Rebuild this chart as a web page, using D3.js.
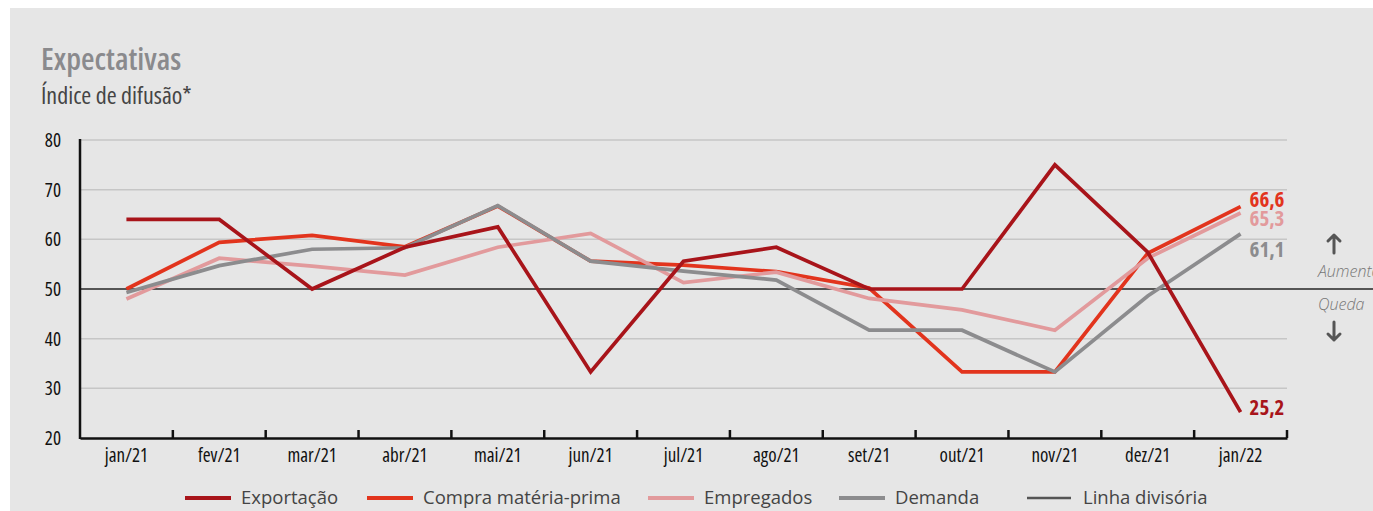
<!DOCTYPE html>
<html>
<head>
<meta charset="utf-8">
<script src="https://cdn.jsdelivr.net/npm/d3@7"></script>
<style>
  body { margin: 0; background: #fff; }
  svg { display: block; }
  text { font-family: "Open Sans", sans-serif; font-stretch: 75%; }
</style>
</head>
<body>
<svg></svg>
<script>
const months = ["jan/21", "fev/21", "mar/21", "abr/21", "mai/21", "jun/21", "jul/21",
                "ago/21", "set/21", "out/21", "nov/21", "dez/21", "jan/22"];

const exportacao = [64, 64, 50, 58.4, 62.5, 33.3, 55.6, 58.4, 50, 50, 75, 57.4, 25.2];
const compraMateria = [50, 59.4, 60.8, 58.5, 66.7, 55.6, 54.8, 53.5, 50.2, 33.3, 33.3, 57.2, 66.6];
const empregados = [48, 56.2, 54.6, 52.8, 58.4, 61.2, 51.3, 53.4, 48.1, 45.8, 41.7, 56.2, 65.3];
const demanda = [49.3, 54.7, 58, 58.3, 66.8, 55.6, 53.6, 51.8, 41.7, 41.7, 33.3, 48.6, 61.1];

const yTicks = [20, 30, 40, 50, 60, 70, 80];
const divisoria = 50;

const seriesNames = ["Exportação", "Compra matéria-prima", "Empregados", "Demanda"];
const seriesColors = ["#a8141a", "#e2341d", "#e29a9c", "#8c8c8e"];
const endLabels = ["25,2", "66,6", "65,3", "61,1"];

(() => {
    const width = 1373;
    const height = 511;
    const margin = { left: 80, right: 86, top: 140, bottom: 73 };

    const svg = d3.select("svg")
        .attr("width", width)
        .attr("height", height);

    // squeeze a text until it fits its width in the reference
    const fit = (sel, w) => {
        for (let s = 100; s >= 62; s -= 1) {
            sel.style("font-stretch", s + "%");
            if (sel.node().getComputedTextLength() <= w) break;
        }
    };

    // panel
    svg.append("rect")
        .attr("x", 10).attr("y", 8)
        .attr("width", width - 10).attr("height", height - 8)
        .attr("fill", "#e6e6e6");

    svg.append("text")
        .attr("x", 41).attr("y", 70)
        .attr("font-size", 31).attr("font-weight", 600)
        .attr("fill", "#8a8a8d")
        .text("Expectativas")
        .call(fit, 152);

    svg.append("text")
        .attr("x", 41).attr("y", 104)
        .attr("font-size", 24)
        .attr("fill", "#444")
        .text("Índice de difusão*")
        .call(fit, 164);

    const x = d3.scaleBand()
        .domain(months)
        .range([margin.left, width - margin.right]);

    const y = d3.scaleLinear()
        .domain([20, 80])
        .range([height - margin.bottom, margin.top]);

    const cx = d => x(d) + x.bandwidth() / 2;

    // grid
    svg.append("g")
        .selectAll("line")
        .data(yTicks.filter(t => t !== 20 && t !== divisoria))
        .enter()
        .append("line")
        .attr("x1", margin.left).attr("x2", width - margin.right)
        .attr("y1", d => y(d)).attr("y2", d => y(d))
        .attr("stroke", "#c6c6c6")
        .attr("stroke-width", 1.5);

    // y labels
    svg.append("g")
        .selectAll("text")
        .data(yTicks)
        .enter()
        .append("text")
        .attr("x", 61)
        .attr("y", d => y(d) + 7)
        .attr("text-anchor", "end")
        .attr("font-size", 19)
        .attr("fill", "#111")
        .text(d => d);

    // linha divisória
    svg.append("line")
        .attr("x1", margin.left).attr("x2", width)
        .attr("y1", y(divisoria)).attr("y2", y(divisoria))
        .attr("stroke", "#555")
        .attr("stroke-width", 2);

    // axes
    svg.append("line")
        .attr("x1", margin.left).attr("x2", margin.left)
        .attr("y1", y(80) - 1).attr("y2", y(20) + 1)
        .attr("stroke", "#111").attr("stroke-width", 2.5);

    const xAxis = d3.axisBottom(x).tickSize(0).tickPadding(11);
    const gx = svg.append("g")
        .attr("transform", `translate(0,${y(20)})`)
        .call(xAxis);
    gx.select(".domain").attr("stroke", "#111").attr("stroke-width", 2.5);
    gx.selectAll("text")
        .attr("font-size", 19)
        .attr("fill", "#111")
        .attr("font-family", null);

    svg.append("g")
        .selectAll("line")
        .data(months.slice(1).concat(["end"]))
        .enter()
        .append("line")
        .attr("x1", d => d === "end" ? x.range()[1] : x(d))
        .attr("x2", d => d === "end" ? x.range()[1] : x(d))
        .attr("y1", y(20)).attr("y2", y(20) - 8)
        .attr("stroke", "#111").attr("stroke-width", 2.5);

    const seriesData = [exportacao, compraMateria, empregados, demanda];
    const line = d3.line()
        .x((d, i) => cx(months[i]))
        .y(d => y(d));

    const drawOrder = [1, 2, 3, 0];
    svg.append("g")
        .selectAll("path")
        .data(drawOrder)
        .enter()
        .append("path")
        .attr("d", i => line(seriesData[i]))
        .attr("fill", "none")
        .attr("stroke", i => seriesColors[i])
        .attr("stroke-width", 3.7)
        .attr("stroke-linejoin", "miter");

    // end labels
    const labelOffsets = [3, 0, 13, 23];
    const last = months[months.length - 1];
    svg.append("g")
        .selectAll("text")
        .data([0, 1, 2, 3])
        .enter()
        .append("text")
        .attr("x", cx(last) + 9)
        .attr("y", i => y(seriesData[i][months.length - 1]) + labelOffsets[i])
        .attr("font-size", 21)
        .attr("font-weight", "bold")
        .attr("fill", i => seriesColors[i])
        .text(i => endLabels[i]);

    // aumento / queda
    const y50 = y(divisoria);
    const ar = svg.append("g")
        .attr("fill", "none").attr("stroke", "#555")
        .attr("stroke-width", 3).attr("stroke-linecap", "round")
        .attr("stroke-linejoin", "round");
    ar.append("path").attr("d", `M1334,${y50 - 36}V${y50 - 54}M1328,${y50 - 48}L1334,${y50 - 54}L1340,${y50 - 48}`);
    ar.append("path").attr("d", `M1334,${y50 + 33}V${y50 + 51}M1328,${y50 + 45}L1334,${y50 + 51}L1340,${y50 + 45}`);
    svg.append("text").attr("x", 1318).attr("y", y50 - 12)
        .attr("font-size", 16).attr("font-style", "italic").attr("font-weight", 300)
        .style("font-stretch", "100%")
        .attr("fill", "#777")
        .text("Aumento");
    svg.append("text").attr("x", 1318).attr("y", y50 + 21)
        .attr("font-size", 16).attr("font-style", "italic").attr("font-weight", 300)
        .style("font-stretch", "100%")
        .attr("fill", "#777")
        .text("Queda");

    // legend
    const legendNames = seriesNames.concat(["Linha divisória"]);
    const legendColors = seriesColors.concat(["#555"]);
    const legendX = [185, 367, 648, 839, 1027];
    const lg = svg.append("g")
        .selectAll("g")
        .data(legendNames)
        .enter()
        .append("g")
        .attr("transform", (d, i) => `translate(${legendX[i]},498)`);
    lg.append("line")
        .attr("x1", 0).attr("x2", (d, i) => i === 4 ? 44 : 46)
        .attr("stroke", (d, i) => legendColors[i])
        .attr("stroke-width", (d, i) => i === 4 ? 2.5 : 4);
    lg.append("text")
        .attr("x", 56)
        .attr("y", 6)
        .attr("font-size", 18.5)
        .style("font-stretch", "100%")
        .attr("fill", "#444")
        .text(d => d);
})();
</script>
</body>
</html>
